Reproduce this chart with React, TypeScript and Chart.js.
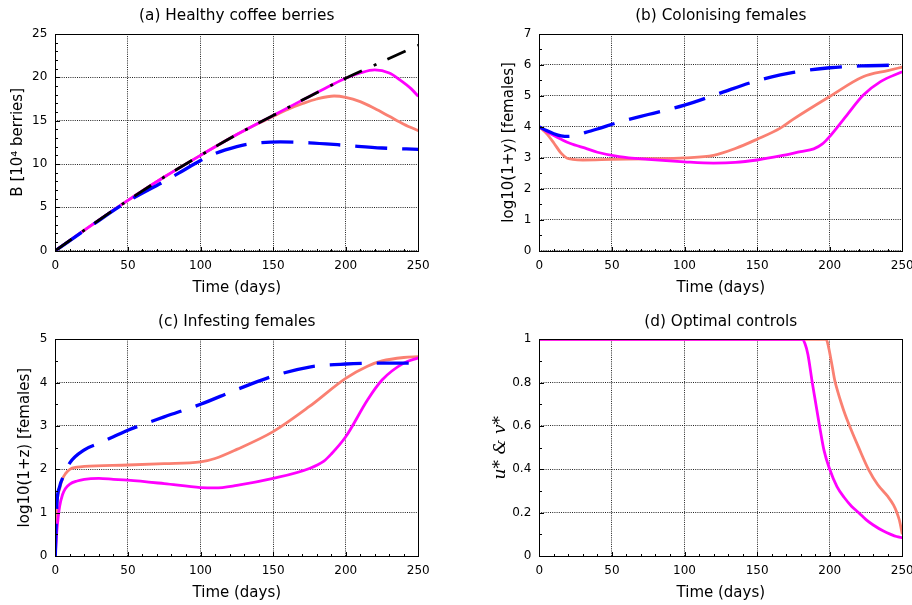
import React, { useEffect, useRef } from 'react';
import { Chart, registerables } from 'chart.js';
Chart.register(...registerables);

const FONT = "'DejaVu Sans', sans-serif";

// ---------- Panel (a): Healthy coffee berries ----------
const tA = [0, 25, 50, 75, 100, 125, 150, 175, 200, 225, 250];
const noPestA = [0, 2.95, 5.8, 8.5, 11.0, 13.4, 15.6, 17.8, 19.9, 21.8, 23.7];
const tMagA = [0, 25, 50, 75, 100, 125, 150, 175, 190, 200, 210, 220, 230, 237, 245, 250];
const magA = [0, 2.95, 5.8, 8.5, 11.0, 13.4, 15.6, 17.8, 19.1, 19.9, 20.5, 20.85, 20.5, 19.75, 18.7, 17.8];
const tSalA = [0, 25, 50, 75, 100, 125, 140, 150, 160, 170, 180, 192, 200, 210, 220, 230, 240, 250];
const salA = [0, 2.95, 5.8, 8.5, 11.0, 13.4, 14.7, 15.5, 16.3, 16.95, 17.5, 17.85, 17.7, 17.2, 16.4, 15.5, 14.6, 13.85];
const tBluA = [0, 25, 50, 75, 85, 100, 110, 125, 135, 155, 175, 200, 225, 250];
const bluA = [0, 2.9, 5.7, 8.0, 8.95, 10.4, 11.2, 12.0, 12.35, 12.55, 12.45, 12.15, 11.85, 11.7];

// ---------- Panel (b): Colonising females ----------
const tBluB = [0, 5, 10, 15, 20, 25, 32, 40, 54, 75, 100, 125, 150, 166, 175, 200, 223, 250];
const bluB = [4.0, 3.88, 3.78, 3.71, 3.69, 3.72, 3.82, 3.93, 4.14, 4.4, 4.7, 5.1, 5.49, 5.68, 5.76, 5.91, 5.97, 6.0];
const tMagB = [0, 5, 10, 15, 21, 33, 40, 55, 75, 100, 120, 135, 150, 166, 180, 189, 195, 200, 212, 223, 235, 250];
const magB = [4.0, 3.85, 3.72, 3.6, 3.47, 3.29, 3.18, 3.04, 2.95, 2.87, 2.83, 2.85, 2.93, 3.06, 3.2, 3.29, 3.45, 3.69, 4.39, 5.02, 5.46, 5.78];
const tSalB = [0, 5, 10, 15, 19, 23, 30, 50, 75, 100, 120, 135, 150, 166, 175, 200, 223, 240, 250];
const salB = [4.0, 3.78, 3.48, 3.15, 2.99, 2.95, 2.93, 2.95, 2.97, 3.0, 3.08, 3.3, 3.6, 3.96, 4.25, 4.98, 5.62, 5.82, 5.93];

// ---------- Panel (c): Infesting females ----------
const tBluC = [0, 1, 3, 6, 10, 20, 30, 40, 50, 75, 100, 125, 150, 175, 200, 225, 250];
const bluC = [0, 1.15, 1.6, 1.87, 2.15, 2.45, 2.6, 2.75, 2.9, 3.21, 3.5, 3.84, 4.15, 4.36, 4.43, 4.45, 4.45];
const tSalC = [0, 1, 3, 5, 7, 10, 15, 20, 50, 75, 100, 110, 125, 150, 175, 200, 215, 225, 240, 250];
const salC = [0, 1.1, 1.55, 1.78, 1.9, 2.0, 2.05, 2.07, 2.1, 2.13, 2.17, 2.25, 2.46, 2.87, 3.45, 4.1, 4.38, 4.5, 4.58, 4.6];
const tMagC = [0, 1, 2, 3, 5, 7, 10, 15, 20, 30, 40, 50, 75, 100, 110, 125, 150, 175, 185, 190, 200, 215, 225, 240, 250];
const magC = [0, 0.55, 0.9, 1.15, 1.42, 1.56, 1.66, 1.73, 1.77, 1.79, 1.77, 1.75, 1.67, 1.58, 1.57, 1.63, 1.79, 2.02, 2.19, 2.35, 2.75, 3.6, 4.06, 4.45, 4.57];

// ---------- Panel (d): Optimal controls ----------
const tMagD = [0, 181, 183, 185, 188, 190, 193, 196, 200, 205, 210, 215, 220, 225, 230, 237, 242, 246, 250];
const magD = [1, 1, 0.98, 0.93, 0.8, 0.72, 0.6, 0.49, 0.4, 0.32, 0.27, 0.23, 0.2, 0.168, 0.143, 0.115, 0.1, 0.09, 0.085];
const tSalD = [0, 197.5, 198.5, 199.5, 200.5, 202, 203.5, 205.5, 208, 210.5, 213.7, 220, 226.7, 233, 240, 244, 246, 248, 250];
const salD = [1, 1, 0.985, 0.955, 0.92, 0.865, 0.81, 0.76, 0.705, 0.655, 0.6, 0.5, 0.4, 0.33, 0.275, 0.235, 0.205, 0.165, 0.1];

const xy = (t: number[], v: number[]) => t.map((x, i) => ({ x, y: v[i] }));

const BLACK = { borderColor: '#000000', borderWidth: 2.8, borderDash: [20, 13, 3, 12] };
const BLUE = { borderColor: '#0000ff', borderWidth: 3.3, borderDash: [32, 15] };
const MAG = { borderColor: '#ff00ff', borderWidth: 2.8 };
const SAL = { borderColor: '#fa8072', borderWidth: 2.8 };

const fmt = (v: any) => String(Number(Number(v).toFixed(6)));

const framePlugin = {
  id: 'frame',
  afterDraw(chart: any, _a: any, opts: any) {
    const { ctx, chartArea: a, scales } = chart;
    const xs = scales.x, ys = scales.y;
    const al = (v: number) => Math.round(v) + 0.5;
    ctx.save();
    ctx.strokeStyle = '#000';
    ctx.lineWidth = 1;
    ctx.beginPath();
    const tick = (scale: any, step: number, len: number, horiz: boolean) => {
      const n = Math.round((scale.max - scale.min) / step);
      for (let i = 0; i <= n; i++) {
        const p = al(scale.getPixelForValue(scale.min + i * step));
        if (horiz) { ctx.moveTo(p, al(a.bottom)); ctx.lineTo(p, al(a.bottom) - len); }
        else { ctx.moveTo(al(a.left), p); ctx.lineTo(al(a.left) + len, p); }
      }
    };
    tick(xs, opts.xMinor, 2.5, true);
    tick(xs, opts.xMajor, 4.5, true);
    tick(ys, opts.yMinor, 2.5, false);
    tick(ys, opts.yMajor, 4.5, false);
    ctx.stroke();
    ctx.strokeRect(al(a.left), al(a.top), Math.round(a.right) - Math.round(a.left), Math.round(a.bottom) - Math.round(a.top));
    ctx.fillStyle = '#000';
    ctx.font = `15.3px ${FONT}`;
    ctx.textAlign = 'center';
    ctx.textBaseline = 'middle';
    ctx.fillText(opts.title, (a.left + a.right) / 2, a.top - 17.7);
    ctx.restore();
  },
};

type PanelDef = {
  title: string;
  yLabel: string;
  yFont?: any;
  yMin: number; yMax: number; yStep: number; yMinor: number;
  yW: number; yTitlePad: number;
  xH: number; padTop: number; padRight: number;
  datasets: any[];
};

const GRID = { color: '#222', lineWidth: 1, drawTicks: false };
const BORDER = { display: false, dash: [1, 1.2] };

function makeConfig(p: PanelDef): any {
  return {
    type: 'line',
    data: { datasets: p.datasets.map((d) => ({ fill: false, pointRadius: 0, borderCapStyle: 'butt', ...d })) },
    options: {
      responsive: false,
      animation: false,
      events: [],
      layout: { padding: { top: p.padTop, right: p.padRight, left: 0, bottom: 0 } },
      elements: { point: { radius: 0 }, line: { cubicInterpolationMode: 'monotone' } },
      plugins: {
        legend: { display: false },
        tooltip: { enabled: false },
        frame: { title: p.title, xMajor: 50, xMinor: 10, yMajor: p.yStep, yMinor: p.yMinor },
      },
      scales: {
        x: {
          type: 'linear', min: 0, max: 250,
          ticks: { stepSize: 50, autoSkip: false, maxRotation: 0, padding: 8, color: '#000', font: { family: FONT, size: 12 }, callback: fmt },
          grid: GRID,
          border: BORDER,
          title: { display: true, text: 'Time (days)', color: '#000', font: { family: FONT, size: 15 }, padding: { top: 0, bottom: 3 } },
          afterFit: (s: any) => { s.height = p.xH; s.paddingLeft = 0; s.paddingRight = 0; },
        },
        y: {
          type: 'linear', min: p.yMin, max: p.yMax,
          ticks: { stepSize: p.yStep, autoSkip: false, padding: 8, color: '#000', font: { family: FONT, size: 12 }, callback: fmt },
          grid: GRID,
          border: BORDER,
          title: { display: true, text: p.yLabel, color: '#000', font: p.yFont || { family: FONT, size: 15 }, padding: { top: p.yTitlePad, bottom: 0 } },
          afterFit: (s: any) => { s.width = p.yW; s.paddingTop = 0; s.paddingBottom = 0; },
        },
      },
    },
    plugins: [framePlugin],
  };
}

const panels: { def: PanelDef; left: number; top: number; width: number; height: number }[] = [
  {
    left: 0, top: 0, width: 456, height: 300,
    def: {
      title: '(a) Healthy coffee berries', yLabel: 'B [10⁴ berries]',
      yMin: 0, yMax: 25, yStep: 5, yMinor: 1, yW: 55.3, yTitlePad: 9.5,
      xH: 49.3, padTop: 34, padRight: 37.7,
      datasets: [
        { data: xy(tA, noPestA), ...BLACK },
        { data: xy(tBluA, bluA), ...BLUE },
        { data: xy(tMagA, magA), ...MAG },
        { data: xy(tSalA, salA), ...SAL },
      ],
    },
  },
  {
    left: 456, top: 0, width: 456, height: 300,
    def: {
      title: '(b) Colonising females', yLabel: 'log10(1+y) [females]',
      yMin: 0, yMax: 7, yStep: 1, yMinor: 0.5, yW: 83.3, yTitlePad: 44.5,
      xH: 49.3, padTop: 34, padRight: 9.7,
      datasets: [
        { data: xy(tBluB, bluB), ...BLUE },
        { data: xy(tMagB, magB), ...MAG },
        { data: xy(tSalB, salB), ...SAL },
      ],
    },
  },
  {
    left: 0, top: 300, width: 456, height: 305,
    def: {
      title: '(c) Infesting females', yLabel: 'log10(1+z) [females]',
      yMin: 0, yMax: 5, yStep: 1, yMinor: 0.5, yW: 55.3, yTitlePad: 16.5,
      xH: 49, padTop: 39.3, padRight: 37.7,
      datasets: [
        { data: xy(tBluC, bluC), ...BLUE },
        { data: xy(tMagC, magC), ...MAG },
        { data: xy(tSalC, salC), ...SAL },
      ],
    },
  },
  {
    left: 456, top: 300, width: 456, height: 305,
    def: {
      title: '(d) Optimal controls', yLabel: 'u* & v*',
      yFont: { family: "'DejaVu Serif', serif", size: 17, style: 'italic' },
      yMin: 0, yMax: 1, yStep: 0.2, yMinor: 0.1, yW: 83.3, yTitlePad: 34,
      xH: 49, padTop: 39.3, padRight: 9.7,
      datasets: [
        { data: xy(tMagD, magD), ...MAG },
        { data: xy(tSalD, salD), ...SAL },
      ],
    },
  },
];

function Panel({ def, left, top, width, height }: any) {
  const ref = useRef<HTMLCanvasElement | null>(null);
  useEffect(() => {
    const chart = new Chart(ref.current as HTMLCanvasElement, makeConfig(def));
    return () => chart.destroy();
  }, []);
  return (
    <canvas
      ref={ref}
      width={width}
      height={height}
      style={{ position: 'absolute', left, top, width, height, display: 'block' }}
    />
  );
}

export default function App() {
  return (
    <div style={{ position: 'fixed', left: 0, top: 0, width: 912, height: 605, background: '#fff', overflow: 'hidden' }}>
      {panels.map((p, i) => (
        <Panel key={i} {...p} />
      ))}
    </div>
  );
}
